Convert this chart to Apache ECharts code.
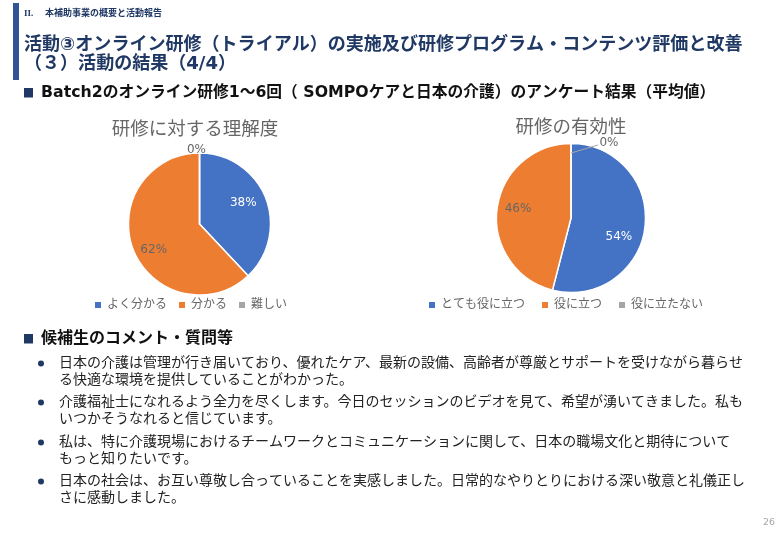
<!DOCTYPE html>
<html>
<head>
<meta charset="utf-8">
<title>活動の結果</title>
<style>
html, body { margin: 0; padding: 0; background: #fff; }
#main { width: 780px; height: 540px; }
</style>
<script src="https://cdn.jsdelivr.net/npm/echarts@6/dist/echarts.min.js"></script>
</head>
<body>
<div id="main"></div>
<script>
// データ
var understandNames = ['よく分かる', '分かる', '難しい'];
var understandValues = [38, 62, 0];
var usefulNames = ['とても役に立つ', '役に立つ', '役に立たない'];
var usefulValues = [54, 46, 0];
var sectionText = 'II.';
var sectionName = '本補助事業の概要と活動報告';
var titleLines = [
    '活動③オンライン研修（トライアル）の実施及び研修プログラム・コンテンツ評価と改善',
    '（３）活動の結果（4/4）'
];
var headingSurvey = 'Batch2のオンライン研修1～6回（ SOMPOケアと日本の介護）のアンケート結果（平均値）';
var headingComments = '候補生のコメント・質問等';
var comments = [
    ['日本の介護は管理が行き届いており、優れたケア、最新の設備、高齢者が尊厳とサポートを受けながら暮らせ', 'る快適な環境を提供していることがわかった。'],
    ['介護福祉士になれるよう全力を尽くします。今日のセッションのビデオを見て、希望が湧いてきました。私も', 'いつかそうなれると信じています。'],
    ['私は、特に介護現場におけるチームワークとコミュニケーションに関して、日本の職場文化と期待について', 'もっと知りたいです。'],
    ['日本の社会は、お互い尊敬し合っていることを実感しました。日常的なやりとりにおける深い敬意と礼儀正し', 'さに感動しました。']
];
var pageNumber = '26';

var fontFamily = '"DejaVu Sans", "Noto Sans CJK JP", sans-serif';
var navy = '#1F3864';
var gray = '#666666';

function toData(names, values) {
    return names.map(function (name, i) {
        return { name: name, value: values[i] };
    });
}

// スライド部分のテキストと飾り
var graphics = [
    { type: 'rect', shape: { x: 13, y: 3, width: 6, height: 77 }, style: { fill: '#2F5597' } },
    { type: 'text', x: 24, y: 14, style: { text: sectionText, fill: navy, font: 'bold 9px "Liberation Serif"', textVerticalAlign: 'middle' } },
    { type: 'text', x: 45, y: 14, style: { text: sectionName, fill: navy, font: 'bold 9px ' + fontFamily, textVerticalAlign: 'middle' } },
    { type: 'text', x: 24, y: 45, style: { text: titleLines[0], fill: navy, font: 'bold 18.05px ' + fontFamily, textVerticalAlign: 'middle' } },
    { type: 'text', x: 24, y: 64, style: { text: titleLines[1], fill: navy, font: 'bold 18.05px ' + fontFamily, textVerticalAlign: 'middle' } },
    { type: 'rect', shape: { x: 24, y: 88, width: 9, height: 9.5 }, style: { fill: navy } },
    { type: 'text', x: 41, y: 93, style: { text: headingSurvey, fill: '#111', font: 'bold 15.75px ' + fontFamily, textVerticalAlign: 'middle' } },
    { type: 'rect', shape: { x: 24, y: 334, width: 9, height: 9.5 }, style: { fill: navy } },
    { type: 'text', x: 41, y: 339, style: { text: headingComments, fill: '#111', font: 'bold 16px ' + fontFamily, textVerticalAlign: 'middle' } },
    { type: 'text', x: 763, y: 523, style: { text: pageNumber, fill: '#A6A6A6', font: '9.5px ' + fontFamily, textVerticalAlign: 'middle' } },
    // 右の円グラフの0%への引き出し線（labelLineが出ないのでここで描く）
    { type: 'polyline', z: 100, shape: { points: [[571, 153], [598, 145]] }, style: { stroke: '#A6A6A6', lineWidth: 1, fill: null } }
];

// コメントの箇条書き
var commentY = [363, 402, 442, 481];
comments.forEach(function (lines, i) {
    graphics.push({ type: 'circle', shape: { cx: 41, cy: commentY[i] + 0.5, r: 3 }, style: { fill: navy } });
    graphics.push({ type: 'text', x: 59, y: commentY[i], style: { text: lines[0], fill: '#222', font: '14px ' + fontFamily, textVerticalAlign: 'middle' } });
    graphics.push({ type: 'text', x: 59, y: commentY[i] + 17, style: { text: lines[1], fill: '#222', font: '14px ' + fontFamily, textVerticalAlign: 'middle' } });
});

// 円グラフの共通設定
function pieSeries(name, data, center, radius, offsets) {
    return {
        type: 'pie',
        name: name,
        center: center,
        radius: radius,
        startAngle: 90,
        data: data,
        animation: false,
        silent: true,
        percentPrecision: 0,
        itemStyle: { borderColor: '#fff', borderWidth: 1.5 },
        label: {
            position: 'inside',
            formatter: '{d}%',
            fontSize: 12,
            fontFamily: fontFamily,
            color: gray
        },
        labelLine: { show: false },
        labelLayout: function (params) {
            return offsets[params.dataIndex];
        }
    };
}

var seriesA = pieSeries('研修に対する理解度', toData(understandNames, understandValues), [199.5, 224], 71, [
    { dx: 8, dy: -7 }, { dx: -10, dy: 12 }, { dx: -3, dy: -36 }
]);
var seriesB = pieSeries('研修の有効性', toData(usefulNames, usefulValues), [571, 218], 74.5, [
    { dx: 8, dy: 14 }, { dx: -13, dy: -4 }, { dx: 38, dy: -35 }
]);
seriesA.data[0].label = { color: '#fff' };
seriesB.data[0].label = { color: '#fff' };

var legendBase = {
    orient: 'horizontal',
    icon: 'rect',
    padding: 0,
    itemWidth: 8,
    itemHeight: 8,
    itemGap: 10,
    textStyle: { color: gray, fontSize: 12, fontFamily: fontFamily },
    selectedMode: false
};

var option = {
    animation: false,
    color: ['#4472C4', '#ED7D31', '#A5A5A5'],
    title: [
        { text: '研修に対する理解度', left: 190, top: 116, textAlign: 'center', textStyle: { color: gray, fontSize: 18.5, fontWeight: 'normal', fontFamily: fontFamily } },
        { text: '研修の有効性', left: 566, top: 114, textAlign: 'center', textStyle: { color: gray, fontSize: 18.5, fontWeight: 'normal', fontFamily: fontFamily } }
    ],
    legend: [
        Object.assign({}, legendBase, { data: understandNames, left: 93, top: 299 }),
        Object.assign({}, legendBase, { data: usefulNames, left: 427, top: 299, itemGap: 15 })
    ],
    graphic: graphics,
    series: [seriesA, seriesB]
};

var chart = echarts.init(document.getElementById('main'));
chart.setOption(option);
</script>
</body>
</html>
